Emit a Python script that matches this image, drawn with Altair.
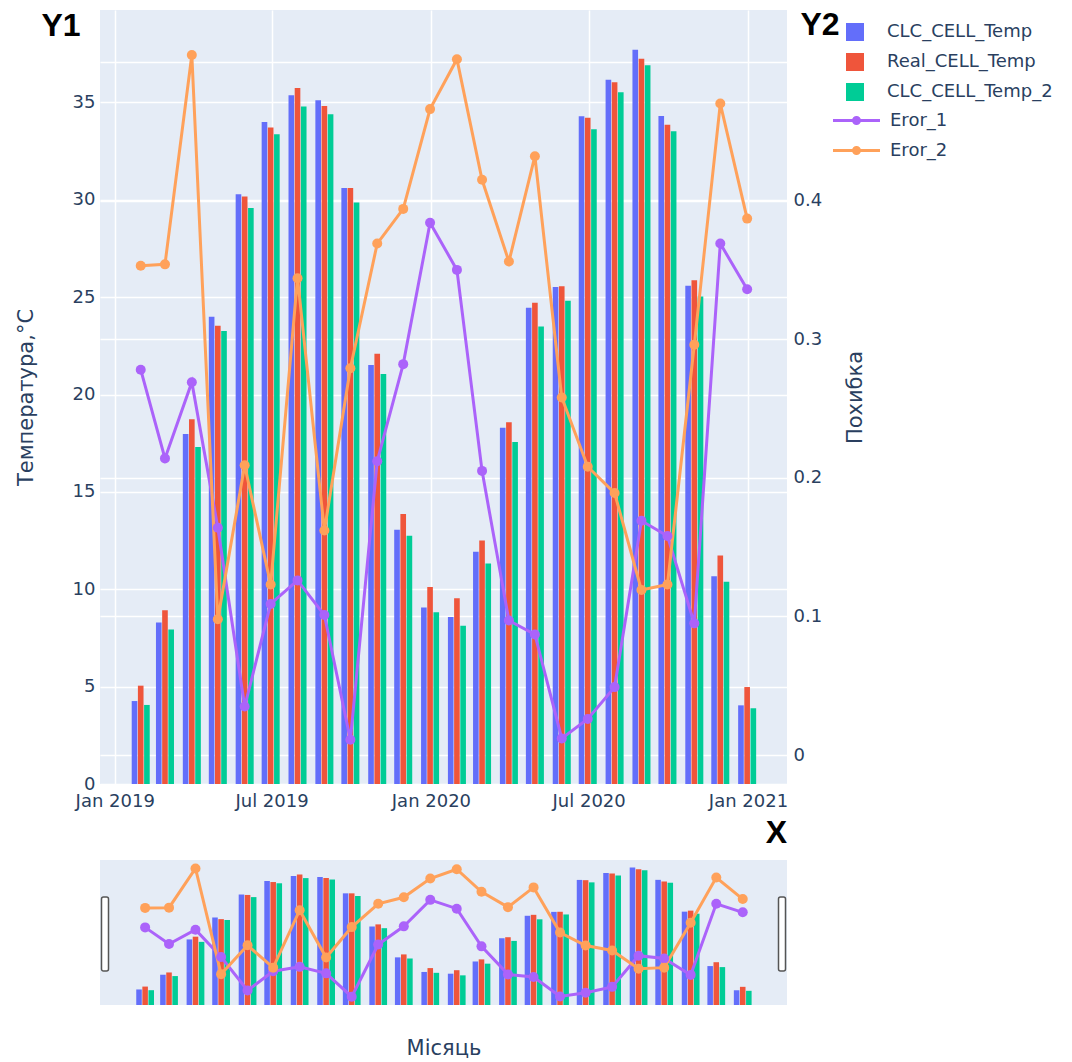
import altair as alt
import pandas as pd

# ---------------- data ----------------
months = ["2019-01-31", "2019-02-28", "2019-03-31", "2019-04-30", "2019-05-31", "2019-06-30",
          "2019-07-31", "2019-08-31", "2019-09-30", "2019-10-31", "2019-11-30", "2019-12-31",
          "2020-01-31", "2020-02-29", "2020-03-31", "2020-04-30", "2020-05-31", "2020-06-30",
          "2020-07-31", "2020-08-31", "2020-09-30", "2020-10-31", "2020-11-30", "2020-12-31"]

clc_cell_temp = [4.26, 8.30, 17.98, 23.99, 30.29, 34.00, 35.37, 35.11, 30.61, 21.52, 13.06, 9.06,
                 8.58, 11.93, 18.30, 24.46, 25.53, 34.29, 36.17, 37.71, 34.31, 25.59, 10.67, 4.04]
real_cell_temp = [5.05, 8.92, 18.73, 23.54, 30.17, 33.71, 35.75, 34.82, 30.61, 22.10, 13.87, 10.12,
                  9.54, 12.51, 18.58, 24.72, 25.56, 34.22, 36.04, 37.24, 33.86, 25.87, 11.73, 4.98]
clc_cell_temp_2 = [4.06, 7.93, 17.31, 23.27, 29.58, 33.37, 34.79, 34.40, 29.86, 21.06, 12.75, 8.82,
                   8.13, 11.33, 17.57, 23.49, 24.82, 33.62, 35.52, 36.91, 33.52, 25.03, 10.39, 3.89]
eror_1 = [0.278, 0.214, 0.269, 0.164, 0.035, 0.109, 0.126, 0.101, 0.011, 0.212, 0.282, 0.384,
          0.350, 0.205, 0.097, 0.087, 0.012, 0.026, 0.049, 0.169, 0.158, 0.095, 0.369, 0.336]
eror_2 = [0.353, 0.354, 0.505, 0.098, 0.209, 0.123, 0.344, 0.162, 0.279, 0.369, 0.394, 0.466,
          0.502, 0.415, 0.356, 0.432, 0.258, 0.208, 0.189, 0.119, 0.123, 0.296, 0.470, 0.387]

bar_series = ["CLC_CELL_Temp", "Real_CELL_Temp", "CLC_CELL_Temp_2"]
line_series = ["Eror_1", "Eror_2"]
bar_colors = ["#636EFA", "#EF553B", "#00CC96"]
line_colors = ["#AB63FA", "#FFA15A"]
x_ticks = ["2019-01-01", "2019-07-01", "2020-01-01", "2020-07-01", "2021-01-01"]
range_edges = ["2018-12-15", "2021-02-15"]

df = pd.DataFrame({
    "month": months,
    "CLC_CELL_Temp": clc_cell_temp,
    "Real_CELL_Temp": real_cell_temp,
    "CLC_CELL_Temp_2": clc_cell_temp_2,
    "Eror_1": eror_1,
    "Eror_2": eror_2,
})

# ---------------- styling ----------------
FONT = "DejaVu Sans"
TXT = "#2a3f5f"
BG = "#E5ECF6"
W, H, HS = 687, 774, 145
DAY = 86400000

x_scale = alt.Scale(type="utc", domain=[alt.DateTime(year=2018, month=12, date=15, utc=True),
                                        alt.DateTime(year=2021, month=2, date=15, utc=True)])
y1_scale = alt.Scale(domain=[0, 39.75], nice=False, zero=False)
y2_scale = alt.Scale(domain=[-0.0209, 0.5375], nice=False, zero=False)

x_axis = alt.Axis(
    values=[alt.DateTime(year=int(t[:4]), month=int(t[5:7]), date=1, utc=True) for t in x_ticks],
    format="%b %Y", title=None, grid=True, gridColor="white", gridWidth=1.5,
    ticks=False, domain=False, labelFontSize=18, labelColor=TXT, labelPadding=8, labelFont=FONT,
)
y1_axis = alt.Axis(
    values=[0, 5, 10, 15, 20, 25, 30, 35], title="Температура,°С", grid=True, gridColor="white",
    gridWidth=1.5, ticks=False, domain=False, labelFontSize=18, labelColor=TXT, labelPadding=5,
    labelFont=FONT, titleFontSize=21, titleFontWeight="normal", titleColor=TXT, titleFont=FONT,
    titleAngle=270, titleX=-74, titleY=H / 2, titleBaseline="middle", titleAlign="center",
)
y2_axis = alt.Axis(
    orient="right", values=[0, 0.1, 0.2, 0.3, 0.4, 0.5],
    labelExpr="datum.value > 0.45 ? '' : (datum.value == 0 ? '0' : format(datum.value, '.1f'))",
    title="Похибка", grid=True, gridColor="white", gridWidth=1.5, ticks=False, domain=False,
    labelFontSize=18, labelColor=TXT, labelPadding=6, labelFont=FONT,
    titleFontSize=21, titleFontWeight="normal", titleColor=TXT, titleFont=FONT,
    titleAngle=270, titleX=68, titleY=H / 2, titleBaseline="middle", titleAlign="center",
)

line_symbol = ("M-2.61,0L2.61,0"
               "M0.333,0A0.333,0.333,0,1,1,-0.333,0A0.333,0.333,0,1,1,0.333,0"
               "M0.167,0A0.167,0.167,0,1,1,-0.167,0A0.167,0.167,0,1,1,0.167,0")

bar_legend = alt.Legend(title=None, orient="none", legendX=746, legendY=13, symbolType="square",
                        symbolSize=324, symbolStrokeWidth=0, labelFontSize=18, labelColor=TXT,
                        labelFont=FONT, labelOffset=23, rowPadding=12, padding=0, labelLimit=0)
line_legend = alt.Legend(title=None, orient="none", legendX=746, legendY=100, symbolType=line_symbol,
                         symbolSize=324, symbolStrokeWidth=3, labelFontSize=18, labelColor=TXT,
                         labelFont=FONT, labelOffset=23, rowPadding=10, padding=0, labelLimit=0)

base = alt.Chart(df)


def bar_layer(axis_x, axis_y, legend):
    return base.transform_fold(
        bar_series, as_=["series", "value"]
    ).transform_calculate(
        k="indexof(['CLC_CELL_Temp','Real_CELL_Temp','CLC_CELL_Temp_2'], datum.series)"
    ).transform_calculate(
        x0=f"time(toDate(datum.month)) + (datum.k - 1) * {7.15 * DAY} - {3.25 * DAY}"
    ).transform_calculate(
        x1=f"datum.x0 + {6.5 * DAY}"
    ).mark_bar().encode(
        x=alt.X("x0:T", scale=x_scale, axis=axis_x),
        x2=alt.X2("x1:T"),
        y=alt.Y("value:Q", scale=y1_scale, axis=axis_y),
        y2=alt.datum(0),
        color=alt.Color("series:N", scale=alt.Scale(domain=bar_series, range=bar_colors),
                        legend=legend, sort=bar_series),
    )


def line_layer(axis_x, axis_y, legend):
    return base.transform_fold(
        line_series, as_=["series", "value"]
    ).mark_line(
        strokeWidth=3, point=alt.OverlayMarkDef(filled=True, size=100, opacity=1)
    ).encode(
        x=alt.X("month:T", scale=x_scale, axis=axis_x),
        y=alt.Y("value:Q", scale=y2_scale, axis=axis_y),
        color=alt.Color("series:N", scale=alt.Scale(domain=line_series, range=line_colors),
                        legend=legend, sort=line_series),
    )


def label(txt, x, y, align="center"):
    return alt.Chart(pd.DataFrame({"t": [txt]})).mark_text(
        font="Liberation Sans", fontWeight="bold", fontSize=32, color="black",
        align=align, baseline="middle"
    ).encode(text="t:N", x=alt.value(x), y=alt.value(y))


main = alt.layer(
    bar_layer(x_axis, y1_axis, bar_legend),
    line_layer(x_axis, y2_axis, line_legend),
    label("Y1", -39, 16),
    label("Y2", 720, 15),
).resolve_scale(y="independent", color="independent").properties(width=W, height=H)

slider_x_axis = alt.Axis(labels=False, ticks=False, domain=False, grid=False, title="Місяць",
                         titleFontSize=21, titleFontWeight="normal", titleColor=TXT, titleFont=FONT,
                         titlePadding=32)

handles = alt.Chart(pd.DataFrame({"edge": range_edges})).mark_bar(
    size=7, fill="white", stroke="#555555", strokeWidth=1.5, cornerRadius=2
).encode(
    x=alt.X("edge:T", scale=x_scale, axis=slider_x_axis),
    y=alt.value(37), y2=alt.value(111),
)

slider = alt.layer(
    bar_layer(slider_x_axis, None, None),
    line_layer(slider_x_axis, None, None),
    handles,
    label("X", 687, -27, align="right"),
).resolve_scale(y="independent", color="independent").properties(width=W, height=HS)

chart = alt.vconcat(main, slider, spacing=76, bounds="flush").resolve_scale(
    color="independent", x="independent"
).properties(
    padding={"left": 7, "top": 1, "right": 5, "bottom": 5}
).configure(font=FONT).configure_view(fill=BG, strokeWidth=0)

chart.save("out.html", embed_options={"renderer": "svg", "actions": False})
